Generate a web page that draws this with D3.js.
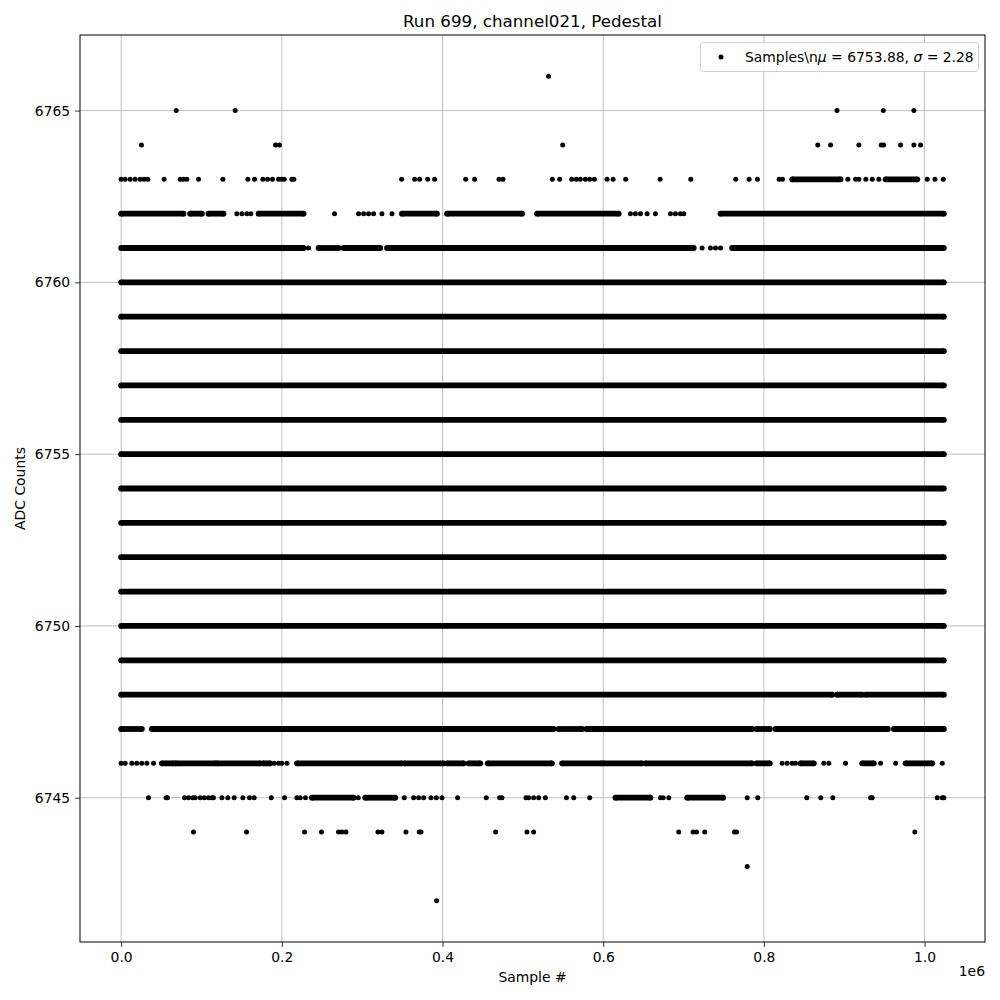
<!DOCTYPE html>
<html>
<head>
<meta charset="utf-8">
<script src="https://cdn.jsdelivr.net/npm/d3@7"></script>
<style>
  html, body { margin: 0; padding: 0; background: #fff; }
  svg { display: block; font-family: "DejaVu Sans", sans-serif; }
</style>
</head>
<body>
<svg id="chart" width="1000" height="1000"></svg>
<script>
// ---- Data (x in thousands of samples; a number = single sample, [a,b] = dense run of samples) ----
const titleText = "Run 699, channel021, Pedestal";
const xLabel = "Sample #";
const yLabel = "ADC Counts";
const xTicks = [0, 200000, 400000, 600000, 800000, 1000000];
const xTickLabels = ["0.0", "0.2", "0.4", "0.6", "0.8", "1.0"];
const yTicks = [6745, 6750, 6755, 6760, 6765];
const yTickLabels = ["6745", "6750", "6755", "6760", "6765"];
const nSamples = 1024000;
const legendMu = "6753.88";
const legendSigma = "2.28";

const lvl6766 = [532];
const lvl6765 = [68.5, 142, 891, 948.6, 986.7];
const lvl6764 = [25.3, 192.2, 197.1, 549.6, 867.1, 883, 918.2, 946, 949, 970.1, 986.7, 995];
const lvl6763 = [0, 4.9, 11.2, 17.4, 23.7, 28.6, 33.2, 53.5, 73.5, 77.6, 81.8, 96.3, 126.6, 157.7, 166, 176.4,
  182.2, 188.4, 195.9, 200, 203, 212.5, 215, 349.1, 365.3, 371.5, 381.5, 390.2, 428.8, 440, 470.3, 475.3,
  536.7, 545.8, 560.8, 566.6, 571.6, 577.8, 583.2, 589, 604.8, 612.3, 628, 670.8, 709, 765, 781.6, 791.9,
  819, 823.1, [835.2, 895.4], 904.5, 914.1, 918.2, 926.9, 934.8, 943.1, [951.4, 990.9], 1003.3, 1012.9, 1023.3];
const lvl6762 = [[0, 77.6], [85.9, 100.5], [108.7, 127.4], 144, 150.3, 156.5, 161.5, [171, 227.1], 265.6,
  295.5, 301.8, 308, 314.2, 324.6, 337.1, [349.5, 393.1], [405.6, 499], [517.7, 619.3], 633.9, 640.1, 646.4,
  654.6, 665, 683.7, 689.9, 696.1, 700.3, [746, 1024]];
const lvl6761 = [[0, 227.1], 233.2, [245.7, 270.6], [276.8, 322.5], [330.9, 712.7], 723.1, 733.5, 739.7, 746,
  [760.4, 1024]];
const lvl6760 = [[0, 1024]];
const lvl6759 = [[0, 1024]];
const lvl6758 = [[0, 1024]];
const lvl6757 = [[0, 1024]];
const lvl6756 = [[0, 1024]];
const lvl6755 = [[0, 1024]];
const lvl6754 = [[0, 1024]];
const lvl6753 = [[0, 1024]];
const lvl6752 = [[0, 1024]];
const lvl6751 = [[0, 1024]];
const lvl6750 = [[0, 1024]];
const lvl6749 = [[0, 1024]];
const lvl6748 = [[0, 885], [891, 922.3], [926.5, 1024]];
const lvl6747 = [[0, 25.8], [38.2, 538.4], [544.6, 573.7], [579.1, 785.4], [790.8, 807.4], [814.4, 954.3],
  [961.8, 1024]];
const lvl6746 = [0, 5, 13.3, 19.5, 25.7, 32, 40.3, [50.7, 65.1], [67.2, 117.1], [119.2, 173.1], [176.4, 185.6],
  190.5, 195.9, 200, 206.4, [218.8, 349.5], [352.4, 401.4], [405.6, 426.3], [432.5, 447.1], [456.2, 536.3],
  [548.8, 598.6], [600.6, 648.4], [652.6, 785.4], [790.8, 807.4], 822.7, 828.9, 835.2, 839.3, [845.6, 862.2],
  874.6, 880.9, 901.6, [922.3, 936.9], 945.2, 964, [976.3, 1009.6], 1022];
const lvl6745 = [34, 56, 57.7, 78.9, 83.9, 89.3, 92.2, 98.4, 103.4, 108.7, 112.9, 114.9, 125.4, 132.8, 140.7,
  151.5, 159.8, 165.6, 186.8, 203.4, 218.8, 222.9, 229.5, [237.4, 289.3], 295.1, [303.9, 341.2], 352.4, 364,
  370.3, 376.5, 385.6, 392.3, 399.3, 418.8, 454.5, 471.1, 474, 503.9, 507.2, 513.4, 519.7, 528, 554.2, 563.3,
  583.2, [615.2, 658.8], 671.2, 674.6, 681.6, [704.5, 749.3], 779.2, 792.4, 853.4, 870.8, 885.8, 932.8, 934.8,
  1015.8, 1022, 1024];
const lvl6744 = [90.1, 156, 228.3, 249.4, 270.6, 274.8, 279.8, 319.6, 324.6, 354.5, 371.1, 373.2, 466.1, 505.1,
  513.4, 694, 711.9, 716.1, 726.4, 763.4, 765.9, 987.9];
const lvl6743 = [779.2];
const lvl6742 = [392.7];

const levelData = [
  [6766, lvl6766], [6765, lvl6765], [6764, lvl6764], [6763, lvl6763], [6762, lvl6762], [6761, lvl6761],
  [6760, lvl6760], [6759, lvl6759], [6758, lvl6758], [6757, lvl6757], [6756, lvl6756], [6755, lvl6755],
  [6754, lvl6754], [6753, lvl6753], [6752, lvl6752], [6751, lvl6751], [6750, lvl6750], [6749, lvl6749],
  [6748, lvl6748], [6747, lvl6747], [6746, lvl6746], [6745, lvl6745], [6744, lvl6744], [6743, lvl6743],
  [6742, lvl6742]
];

// ---- Build runs ----
const xMaxData = nSamples - 1;
const runs = [];
levelData.forEach(([v, arr]) => {
  arr.forEach(e => {
    let a, b;
    if (Array.isArray(e)) { a = e[0] * 1000; b = e[1] * 1000; } else { a = b = e * 1000; }
    a = Math.min(Math.max(a, 0), xMaxData);
    b = Math.min(Math.max(b, 0), xMaxData);
    runs.push({ v, a, b, dense: Array.isArray(e) });
  });
});

// ---- Layout ----
const L = 80, R = 985, T = 35, B = 942;
const svg = d3.select("#chart");

const xMargin = 0.05 * xMaxData;
const x = d3.scaleLinear().domain([-xMargin, xMaxData + xMargin]).range([L, R]);
const yMin = 6742, yMax = 6766, yM = 0.05 * (yMax - yMin);
const y = d3.scaleLinear().domain([yMin - yM, yMax + yM]).range([B, T]);

// grid
const grid = svg.append("g").attr("stroke", "#b0b0b0").attr("stroke-width", 0.8);
xTicks.forEach(t => grid.append("line").attr("x1", x(t)).attr("x2", x(t)).attr("y1", T).attr("y2", B));
yTicks.forEach(t => grid.append("line").attr("y1", y(t)).attr("y2", y(t)).attr("x1", L).attr("x2", R));

// data
const r = 2.5, rDense = 2.9;
const gData = svg.append("g");
gData.selectAll("line.run").data(runs.filter(d => d.b > d.a)).join("line")
  .attr("class", "run")
  .attr("x1", d => x(d.a)).attr("x2", d => x(d.b))
  .attr("y1", d => y(d.v)).attr("y2", d => y(d.v))
  .attr("stroke", "#000").attr("stroke-width", 2 * rDense);
const ends = [];
runs.forEach(d => {
  ends.push({ x: d.a, v: d.v, r: d.dense ? rDense : r });
  if (d.b > d.a) ends.push({ x: d.b, v: d.v, r: rDense });
});
gData.selectAll("circle.pt").data(ends).join("circle")
  .attr("class", "pt")
  .attr("cx", d => x(d.x)).attr("cy", d => y(d.v)).attr("r", d => d.r).attr("fill", "#000");

// axes
const xAxis = d3.axisBottom(x).tickValues(xTicks).tickFormat((d, i) => xTickLabels[i]).tickSizeOuter(0).tickSize(4.9).tickPadding(4.9);
const yAxis = d3.axisLeft(y).tickValues(yTicks).tickFormat((d, i) => yTickLabels[i]).tickSizeOuter(0).tickSize(4.9).tickPadding(4.9);
const gx = svg.append("g").attr("transform", `translate(0,${B})`).call(xAxis);
const gy = svg.append("g").attr("transform", `translate(${L},0)`).call(yAxis);
[gx, gy].forEach(g => {
  g.select(".domain").remove();
  g.selectAll(".tick line").attr("stroke", "#000").attr("stroke-width", 0.8);
  g.selectAll(".tick text").attr("font-family", "DejaVu Sans").attr("font-size", 13.9).attr("fill", "#000");
});

// frame
svg.append("rect").attr("x", L).attr("y", T).attr("width", R - L).attr("height", B - T)
  .attr("fill", "none").attr("stroke", "#000").attr("stroke-width", 1);

// texts
svg.append("text").attr("x", (L + R) / 2).attr("y", 27).attr("text-anchor", "middle")
  .attr("font-size", 16.7).text(titleText);
svg.append("text").attr("x", (L + R) / 2).attr("y", 982).attr("text-anchor", "middle")
  .attr("font-size", 13.9).text(xLabel);
svg.append("text").attr("transform", `translate(25,${(T + B) / 2}) rotate(-90)`).attr("text-anchor", "middle")
  .attr("font-size", 13.9).text(yLabel);
svg.append("text").attr("x", R).attr("y", 976).attr("text-anchor", "end")
  .attr("font-size", 13.9).text("1e6");

// legend
const lg = svg.append("g");
lg.append("rect").attr("x", 700.5).attr("y", 42.5).attr("width", 278).attr("height", 29).attr("rx", 3)
  .attr("fill", "#fff").attr("fill-opacity", 0.8).attr("stroke", "#d0d0d0").attr("stroke-width", 1);
lg.append("circle").attr("cx", 721).attr("cy", 57).attr("r", r).attr("fill", "#000");
const lt = lg.append("text").attr("x", 745).attr("y", 62).attr("font-size", 13.9);
lt.append("tspan").text("Samples\\n");
lt.append("tspan").attr("font-style", "italic").text("μ");
lt.append("tspan").text(" = " + legendMu + ", ");
lt.append("tspan").attr("font-style", "italic").text("σ");
lt.append("tspan").text(" = " + legendSigma);
</script>
</body>
</html>
